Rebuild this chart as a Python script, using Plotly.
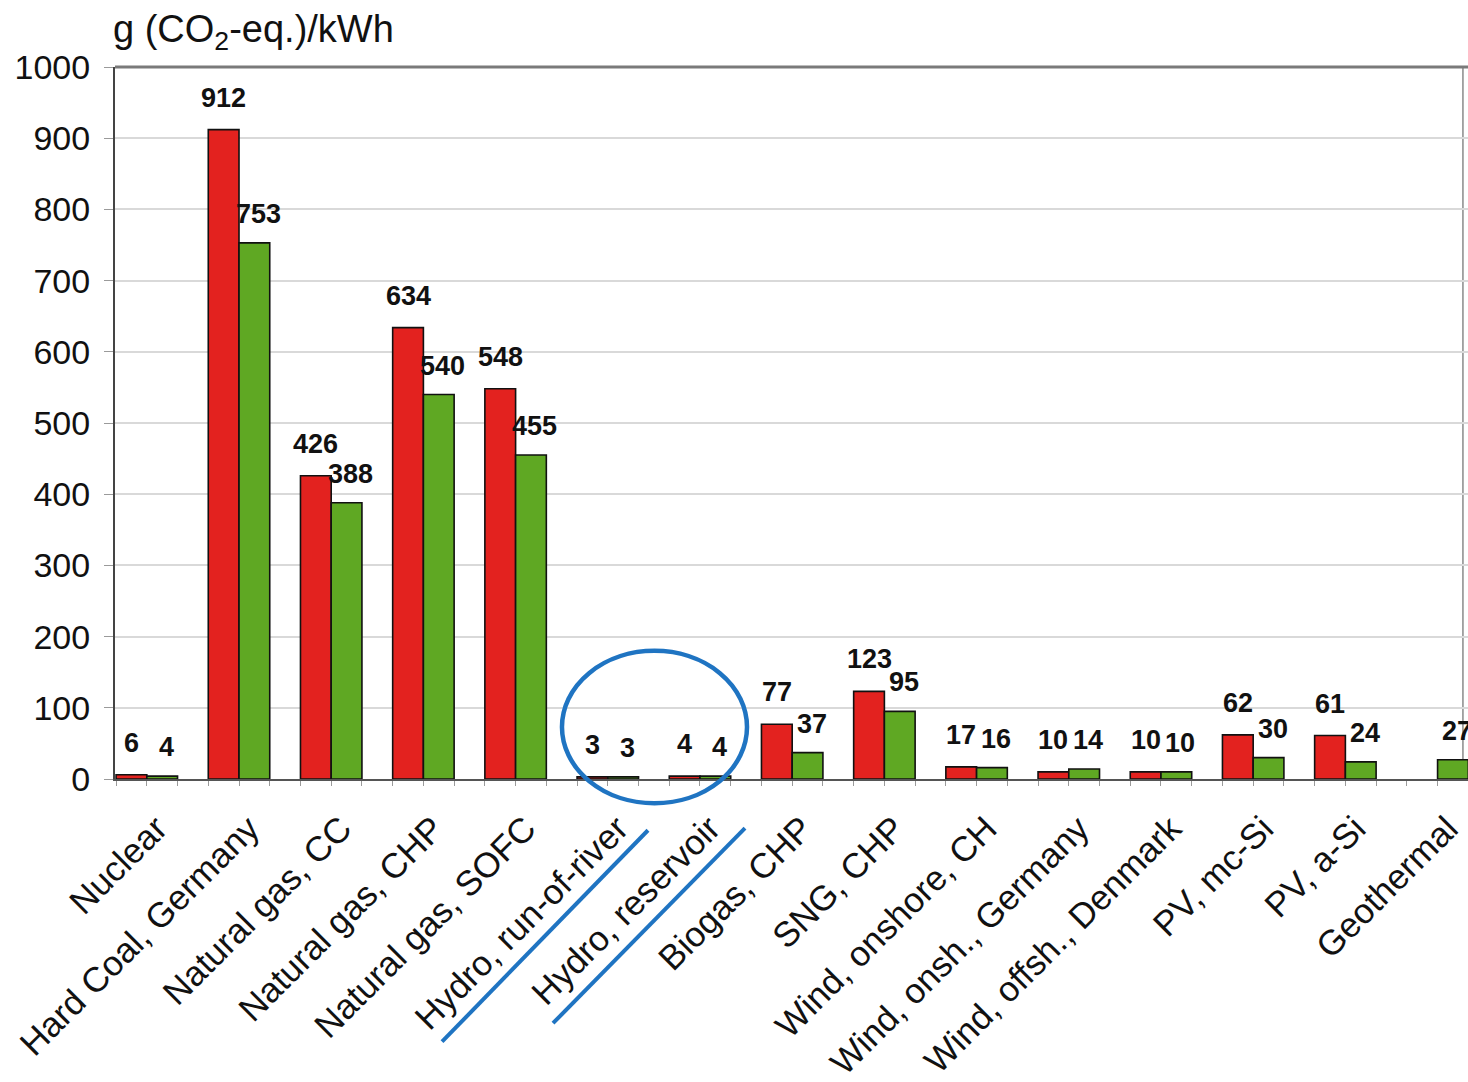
import plotly.graph_objects as go
import numpy as np

# Life-cycle greenhouse gas emissions per kWh of electricity, two estimates per technology
categories = [
    "Nuclear", "Hard Coal, Germany", "Natural gas, CC", "Natural gas, CHP",
    "Natural gas, SOFC", "Hydro, run-of-river", "Hydro, reservoir", "Biogas, CHP",
    "SNG, CHP", "Wind, onshore, CH", "Wind, onsh., Germany", "Wind, offsh., Denmark",
    "PV, mc-Si", "PV, a-Si", "Geothermal",
]
values_red = [6, 912, 426, 634, 548, 3, 4, 77, 123, 17, 10, 10, 62, 61, None]
values_green = [4, 753, 388, 540, 455, 3, 4, 37, 95, 16, 14, 10, 30, 24, 27]
y_ticks = [0, 100, 200, 300, 400, 500, 600, 700, 800, 900, 1000]

RED = "#e3221f"
GREEN = "#5fa823"
BLUE = "#1f74c2"
FONT = "Liberation Sans, Arial, sans-serif"

x = np.arange(len(categories))
w = 1 / 3

fig = go.Figure()
fig.add_trace(go.Bar(
    x=x - w / 2, y=values_red, width=w, marker=dict(color=RED, line=dict(color="#111111", width=1.6)),
    showlegend=False, hoverinfo="y",
))
fig.add_trace(go.Bar(
    x=x + w / 2, y=values_green, width=w, marker=dict(color=GREEN, line=dict(color="#111111", width=1.6)),
    showlegend=False, hoverinfo="y",
))

annotations = []
for xi, v in zip(x - w / 2, values_red):
    if v is None:
        continue
    annotations.append(dict(x=xi, y=v, text=f"<b>{v}</b>", showarrow=False, yanchor="middle",
                            yshift=32, font=dict(family=FONT, size=27, color="#111111")))
for xi, v in zip(x + w / 2, values_green):
    if v is None:
        continue
    annotations.append(dict(x=xi, y=v, text=f"<b>{v}</b>", showarrow=False, yanchor="middle",
                            xshift=4, yshift=29, font=dict(family=FONT, size=27, color="#111111")))

# unit label above the value axis
annotations.append(dict(
    xref="paper", yref="paper", x=-0.003, y=1.085, xanchor="left", yanchor="top",
    text="g (CO<sub>2</sub>-eq.)/kWh", showarrow=False,
    font=dict(family=FONT, size=38, color="#111111"),
))

shapes = [
    # top frame line
    dict(type="line", xref="paper", yref="paper", x0=0, x1=1, y0=1, y1=1,
         line=dict(color="#7a7a7a", width=3), layer="above"),
    # right frame line
    dict(type="line", xref="x", yref="paper", x0=14.275, x1=14.275, y0=0, y1=1,
         line=dict(color="#8a8a8a", width=1.5), layer="below"),
    # highlight around the two hydro technologies
    dict(type="circle", xref="x", yref="paper", x0=4.503, x1=6.510, y0=-0.034, y1=0.180,
         line=dict(color=BLUE, width=4.5)),
    dict(type="line", xref="x", yref="paper", x0=3.202, y0=-0.369, x1=5.436, y1=-0.072,
         line=dict(color=BLUE, width=4)),
    dict(type="line", xref="x", yref="paper", x0=4.406, y0=-0.343, x1=6.488, y1=-0.069,
         line=dict(color=BLUE, width=4)),
]

fig.update_layout(
    width=1468, height=1082,
    margin=dict(l=115, r=0, t=67, b=303),
    paper_bgcolor="white", plot_bgcolor="white",
    barmode="overlay",
    annotations=annotations,
    shapes=shapes,
    font=dict(family=FONT, color="#111111"),
)
fig.update_xaxes(
    range=[-0.345, 14.33],
    tickmode="array", tickvals=x, ticktext=categories, tickangle=-45,
    tickfont=dict(family=FONT, size=35, color="#111111"),
    ticks="outside", ticklen=5, tickcolor="#9a9a9a",
    ticklabelstandoff=8, ticklabelshift=10,
    minor=dict(ticks="outside", tick0=-1 / 3, dtick=1 / 3, ticklen=5, tickcolor="#9a9a9a"),
    showline=True, linecolor="#555555", linewidth=2,
    showgrid=False, zeroline=False,
)
fig.update_yaxes(
    range=[0, 1000],
    tickmode="array", tickvals=y_ticks,
    tickfont=dict(family=FONT, size=34, color="#111111"),
    ticks="outside", ticklen=9, tickcolor="#9a9a9a",
    ticklabelstandoff=7,
    showline=True, linecolor="#444444", linewidth=2,
    showgrid=True, gridcolor="#d9d9d9", gridwidth=1.5,
    zeroline=False,
)

fig.write_html("out.html")
